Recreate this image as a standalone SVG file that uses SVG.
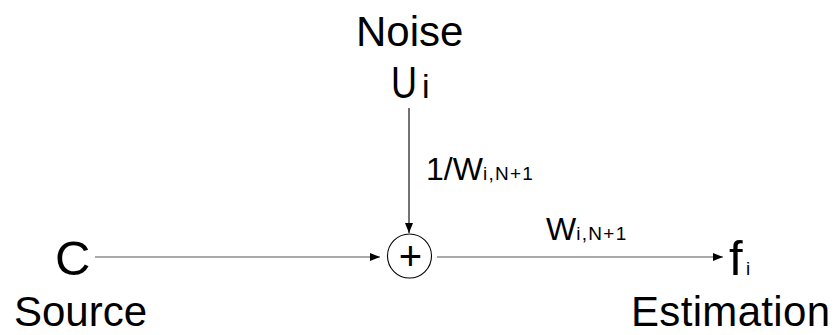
<svg xmlns="http://www.w3.org/2000/svg" width="836" height="335" viewBox="0 0 836 335">
<style>
text{font-family:"Liberation Sans",Arial,sans-serif;fill:#000}
.lab{font-size:42px}
.big{font-size:32px}
.sub{font-size:19px}
.edge{stroke:#000;stroke-width:1.1;fill:none}
.gray{stroke:#555}
</style>
<defs>
<marker id="arr" markerWidth="10" markerHeight="8" refX="10" refY="4" orient="auto" markerUnits="userSpaceOnUse">
<path d="M0,0 L10,4 L0,8 Z" fill="#000"/>
</marker>
</defs>
<rect width="836" height="335" fill="#fff"/>
<g id="noise">
<text class="lab" x="356" y="46">Noise</text>
<text x="391" y="98" style="font-size:45px" textLength="26" lengthAdjust="spacingAndGlyphs">U</text>
<text x="422" y="98" style="font-size:34px">i</text>
</g>
<g id="source">
<text x="55" y="275" style="font-size:49px">C</text>
<text class="lab" x="14" y="326">Source</text>
</g>
<g id="sum">
<circle cx="409.5" cy="256" r="22" fill="#fff" stroke="#000" stroke-width="1.1"/>
<text x="410.5" y="270" text-anchor="middle" style="font-size:40px">+</text>
</g>
<g id="estimation">
<text x="729" y="275" style="font-size:49px">f</text>
<text x="746" y="275" style="font-size:19px">i</text>
<text class="lab" x="631" y="326" textLength="199" lengthAdjust="spacing">Estimation</text>
</g>
<g id="connectors">
<line class="edge" x1="409" y1="108" x2="409" y2="233" marker-end="url(#arr)"/>
<line class="edge gray" x1="95" y1="257" x2="380" y2="257" marker-end="url(#arr)"/>
<line class="edge gray" x1="437" y1="257" x2="723" y2="257" marker-end="url(#arr)"/>
<text class="big" x="426" y="180">1/W<tspan class="sub" textLength="50" lengthAdjust="spacing">i,N+1</tspan></text>
<text class="big" x="546" y="240">W<tspan class="sub" textLength="50" lengthAdjust="spacing">i,N+1</tspan></text>
</g>
</svg>
